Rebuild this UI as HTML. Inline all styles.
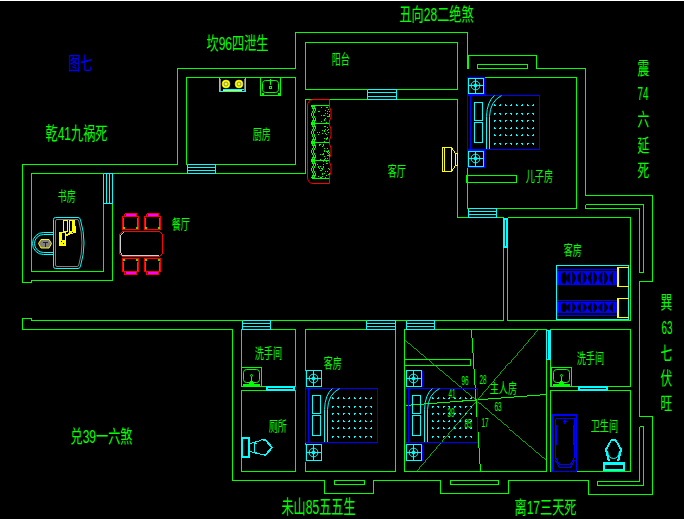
<!DOCTYPE html>
<html><head><meta charset="utf-8"><title>floor plan</title>
<style>
html,body{margin:0;padding:0;background:#000;overflow:hidden}
svg{display:block;position:absolute;left:0;top:0}
text{font-family:"Liberation Sans","Noto Sans CJK SC",sans-serif}
</style></head><body>
<svg width="684" height="519" viewBox="0 0 684 519" fill="none" shape-rendering="crispEdges" stroke-linecap="butt" stroke-linejoin="miter">
<rect x="0" y="0" width="684" height="519" fill="#000"/>
<rect x="0" y="0" width="684" height="1" fill="#fff"/>
<path d="M22.5 282.5 L22.5 164.5 L177.5 164.5 L177.5 68.5 L295.5 68.5 L295.5 32.5 L467.5 32.5 L467.5 68.5" stroke="#00ff00" stroke-width="1" />
<path d="M468.5 55.5 L468.5 68.5" stroke="#00ff00" stroke-width="1" />
<path d="M467.5 55.5 L536.5 55.5 L536.5 68.5 L585.5 68.5 L585.5 195.5 L652.5 195.5 L652.5 281.5 L639.5 281.5 L639.5 416.5 L652.5 416.5 L652.5 494.5 L588.5 494.5 L588.5 480.5 L508.5 480.5 L508.5 493.5 L440.5 493.5 L440.5 480.5 L373.5 480.5 L373.5 493.5 L324.5 493.5 L324.5 480.5 L232.5 480.5 L232.5 329.5 L22.5 329.5 L22.5 318.5 L31.5 318.5 L31.5 320.5 L503.5 320.5" stroke="#00ff00" stroke-width="1" />
<path d="M507.5 320.5 L630.5 320.5 L630.5 217.5 L507.5 217.5" stroke="#00ff00" stroke-width="1" />
<path d="M22.5 282.5 L31.5 282.5 L31.5 280.5 L112.5 280.5 L112.5 173.5 L305.5 173.5 L305.5 99.5 L457.5 99.5 L457.5 217.5 L503.5 217.5" stroke="#00ff00" stroke-width="1" />
<path d="M103.5 173.5 L31.5 173.5 L31.5 271.5 L103.5 271.5 L103.5 173.5" stroke="#00ff00" stroke-width="1" />
<rect x="186.5" y="77.5" width="109" height="87" stroke="#00ff00" stroke-width="1" fill="none"/>
<rect x="305.5" y="42.5" width="152" height="47" stroke="#00ff00" stroke-width="1" fill="none"/>
<rect x="467.5" y="77.5" width="109" height="131" stroke="#00ff00" stroke-width="1" fill="none"/>
<path d="M503.5 217.5 L503.5 320.5" stroke="#00ff00" stroke-width="1" />
<path d="M507.5 217.5 L507.5 320.5" stroke="#00ff00" stroke-width="1" />
<rect x="241.5" y="329.5" width="54" height="57" stroke="#00ff00" stroke-width="1" fill="none"/>
<rect x="241.5" y="390.5" width="54" height="81" stroke="#00ff00" stroke-width="1" fill="none"/>
<rect x="305.5" y="329.5" width="90" height="142" stroke="#00ff00" stroke-width="1" fill="none"/>
<rect x="404.5" y="329.5" width="142" height="142" stroke="#00ff00" stroke-width="1" fill="none"/>
<rect x="550.5" y="329.5" width="80" height="57" stroke="#00ff00" stroke-width="1" fill="none"/>
<rect x="550.5" y="390.5" width="80" height="81" stroke="#00ff00" stroke-width="1" fill="none"/>
<rect x="477.5" y="64.5" width="50" height="4" stroke="#00ff00" stroke-width="1" fill="none"/>
<rect x="334.5" y="480.5" width="30" height="4" stroke="#00ff00" stroke-width="1" fill="none"/>
<rect x="450.5" y="480.5" width="48" height="4" stroke="#00ff00" stroke-width="1" fill="none"/>
<path d="M585.5 204.5 L643.5 204.5 L643.5 272.5 L639.5 272.5 L639.5 208.5 L585.5 208.5 L585.5 204.5" stroke="#00ff00" stroke-width="1" />
<path d="M639.5 426.5 L643.5 426.5 L643.5 485.5 L597.5 485.5 L597.5 481.5 L639.5 481.5 L639.5 426.5" stroke="#00ff00" stroke-width="1" />
<rect x="466.5" y="175.5" width="50" height="7" stroke="#00ff00" stroke-width="1" fill="none"/>
<rect x="404.5" y="359.5" width="66" height="6" stroke="#00ff00" stroke-width="1" fill="none"/>
<path d="M103.5 173.5 L103.5 203.5" stroke="#00ffff" stroke-width="1" />
<path d="M106.5 173.5 L106.5 203.5" stroke="#00ffff" stroke-width="1" />
<path d="M109.5 173.5 L109.5 203.5" stroke="#00ffff" stroke-width="1" />
<path d="M112.5 173.5 L112.5 203.5" stroke="#00ffff" stroke-width="1" />
<path d="M103.5 173.5 L112.5 173.5" stroke="#00ffff" stroke-width="1" />
<path d="M103.5 203.5 L112.5 203.5" stroke="#00ffff" stroke-width="1" />
<path d="M187.5 164.5 L215.5 164.5" stroke="#00ffff" stroke-width="1" />
<path d="M187.5 167.5 L215.5 167.5" stroke="#00ffff" stroke-width="1" />
<path d="M187.5 170.5 L215.5 170.5" stroke="#00ffff" stroke-width="1" />
<path d="M187.5 173.5 L215.5 173.5" stroke="#00ffff" stroke-width="1" />
<path d="M187.5 164.5 L187.5 173.5" stroke="#00ffff" stroke-width="1" />
<path d="M215.5 164.5 L215.5 173.5" stroke="#00ffff" stroke-width="1" />
<path d="M367.5 89.5 L396.5 89.5" stroke="#00ffff" stroke-width="1" />
<path d="M367.5 92.5 L396.5 92.5" stroke="#00ffff" stroke-width="1" />
<path d="M367.5 96.5 L396.5 96.5" stroke="#00ffff" stroke-width="1" />
<path d="M367.5 99.5 L396.5 99.5" stroke="#00ffff" stroke-width="1" />
<path d="M367.5 89.5 L367.5 99.5" stroke="#00ffff" stroke-width="1" />
<path d="M396.5 89.5 L396.5 99.5" stroke="#00ffff" stroke-width="1" />
<path d="M468.5 208.5 L496.5 208.5" stroke="#00ffff" stroke-width="1" />
<path d="M468.5 211.5 L496.5 211.5" stroke="#00ffff" stroke-width="1" />
<path d="M468.5 214.5 L496.5 214.5" stroke="#00ffff" stroke-width="1" />
<path d="M468.5 217.5 L496.5 217.5" stroke="#00ffff" stroke-width="1" />
<path d="M468.5 208.5 L468.5 217.5" stroke="#00ffff" stroke-width="1" />
<path d="M496.5 208.5 L496.5 217.5" stroke="#00ffff" stroke-width="1" />
<path d="M242.5 320.5 L270.5 320.5" stroke="#00ffff" stroke-width="1" />
<path d="M242.5 323.5 L270.5 323.5" stroke="#00ffff" stroke-width="1" />
<path d="M242.5 326.5 L270.5 326.5" stroke="#00ffff" stroke-width="1" />
<path d="M242.5 329.5 L270.5 329.5" stroke="#00ffff" stroke-width="1" />
<path d="M242.5 320.5 L242.5 329.5" stroke="#00ffff" stroke-width="1" />
<path d="M270.5 320.5 L270.5 329.5" stroke="#00ffff" stroke-width="1" />
<path d="M366.5 320.5 L395.5 320.5" stroke="#00ffff" stroke-width="1" />
<path d="M366.5 323.5 L395.5 323.5" stroke="#00ffff" stroke-width="1" />
<path d="M366.5 326.5 L395.5 326.5" stroke="#00ffff" stroke-width="1" />
<path d="M366.5 329.5 L395.5 329.5" stroke="#00ffff" stroke-width="1" />
<path d="M366.5 320.5 L366.5 329.5" stroke="#00ffff" stroke-width="1" />
<path d="M395.5 320.5 L395.5 329.5" stroke="#00ffff" stroke-width="1" />
<path d="M406.5 320.5 L434.5 320.5" stroke="#00ffff" stroke-width="1" />
<path d="M406.5 323.5 L434.5 323.5" stroke="#00ffff" stroke-width="1" />
<path d="M406.5 326.5 L434.5 326.5" stroke="#00ffff" stroke-width="1" />
<path d="M406.5 329.5 L434.5 329.5" stroke="#00ffff" stroke-width="1" />
<path d="M406.5 320.5 L406.5 329.5" stroke="#00ffff" stroke-width="1" />
<path d="M434.5 320.5 L434.5 329.5" stroke="#00ffff" stroke-width="1" />
<rect x="503" y="218" width="5" height="30" fill="#00ffff" stroke="none"/>
<rect x="505" y="220" width="1" height="26" fill="#000" stroke="none"/>
<rect x="504" y="217" width="3" height="1" fill="#000" stroke="none"/>
<rect x="546" y="330" width="5" height="30" fill="#00ffff" stroke="none"/>
<rect x="547" y="331" width="1" height="28" fill="#000" stroke="none"/>
<rect x="547" y="329" width="3" height="1" fill="#000" stroke="none"/>
<rect x="266" y="386" width="29" height="5" fill="#00ffff" stroke="none"/>
<rect x="268" y="388" width="25" height="1" fill="#000" stroke="none"/>
<rect x="578" y="386" width="30" height="5" fill="#00ffff" stroke="none"/>
<rect x="580" y="388" width="26" height="1" fill="#000" stroke="none"/>
<path d="M404.5 340.5 L546.5 460.5" stroke="#00ff00" stroke-width="0.68" />
<path d="M471.5 329.5 L480.5 471.5" stroke="#00ff00" stroke-width="1" />
<path d="M537.5 329.5 L416.5 471.5" stroke="#00ff00" stroke-width="0.68" />
<path d="M404.5 405.5 L546.5 394.5" stroke="#00ff00" stroke-width="1" />
<rect x="467.5" y="77.5" width="17" height="17" stroke="#0000ff" stroke-width="1" fill="none"/>
<rect x="468.5" y="78.5" width="15" height="15" stroke="#00ffff" stroke-width="1" fill="none"/>
<circle cx="475.5" cy="85.5" r="4.4" stroke="#00ffff" stroke-width="1" fill="none" shape-rendering="geometricPrecision"/>
<circle cx="475.5" cy="85.5" r="1.6" stroke="#00ffff" stroke-width="1" fill="#00ffff" shape-rendering="geometricPrecision"/>
<path d="M468.5 85.5 L483.5 85.5" stroke="#00ffff" stroke-width="1" />
<path d="M475.5 78.5 L475.5 93.5" stroke="#00ffff" stroke-width="1" />
<rect x="467.5" y="95.5" width="72" height="54" stroke="#0000ff" stroke-width="1" fill="none"/>
<path d="M470.5 95.5 L470.5 149.5" stroke="#0000ff" stroke-width="1" />
<rect x="474.5" y="102.5" width="8" height="18" stroke="#00ffff" stroke-width="1" fill="none"/>
<rect x="474.5" y="122.5" width="8" height="20" stroke="#00ffff" stroke-width="1" fill="none"/>
<path d="M486.5 149 L486.5 116.6 Q487 101.48 494.5 95.5" stroke="#00ffff" stroke-width="1" fill="none" shape-rendering="geometricPrecision"/>
<path d="M489.5 149 L489.5 116.6 Q490 101.48 501.5 95.5" stroke="#00ffff" stroke-width="1" fill="none" shape-rendering="geometricPrecision"/>
<rect x="494" y="105" width="2" height="1" fill="#00ffff" stroke="none"/>
<rect x="494" y="104" width="1" height="1" fill="#00ffff" stroke="none"/>
<rect x="499" y="105" width="2" height="1" fill="#00ffff" stroke="none"/>
<rect x="500" y="104" width="1" height="1" fill="#00ffff" stroke="none"/>
<rect x="505" y="105" width="2" height="1" fill="#00ffff" stroke="none"/>
<rect x="505" y="104" width="1" height="1" fill="#00ffff" stroke="none"/>
<rect x="510" y="105" width="2" height="1" fill="#00ffff" stroke="none"/>
<rect x="511" y="104" width="1" height="1" fill="#00ffff" stroke="none"/>
<rect x="516" y="105" width="2" height="1" fill="#00ffff" stroke="none"/>
<rect x="516" y="104" width="1" height="1" fill="#00ffff" stroke="none"/>
<rect x="521" y="105" width="2" height="1" fill="#00ffff" stroke="none"/>
<rect x="522" y="104" width="1" height="1" fill="#00ffff" stroke="none"/>
<rect x="527" y="105" width="2" height="1" fill="#00ffff" stroke="none"/>
<rect x="527" y="104" width="1" height="1" fill="#00ffff" stroke="none"/>
<rect x="532" y="105" width="2" height="1" fill="#00ffff" stroke="none"/>
<rect x="533" y="104" width="1" height="1" fill="#00ffff" stroke="none"/>
<rect x="494" y="113" width="2" height="1" fill="#00ffff" stroke="none"/>
<rect x="494" y="114" width="1" height="1" fill="#00ffff" stroke="none"/>
<rect x="499" y="113" width="2" height="1" fill="#00ffff" stroke="none"/>
<rect x="500" y="114" width="1" height="1" fill="#00ffff" stroke="none"/>
<rect x="505" y="113" width="2" height="1" fill="#00ffff" stroke="none"/>
<rect x="505" y="114" width="1" height="1" fill="#00ffff" stroke="none"/>
<rect x="510" y="113" width="2" height="1" fill="#00ffff" stroke="none"/>
<rect x="511" y="114" width="1" height="1" fill="#00ffff" stroke="none"/>
<rect x="516" y="113" width="2" height="1" fill="#00ffff" stroke="none"/>
<rect x="516" y="114" width="1" height="1" fill="#00ffff" stroke="none"/>
<rect x="521" y="113" width="2" height="1" fill="#00ffff" stroke="none"/>
<rect x="522" y="114" width="1" height="1" fill="#00ffff" stroke="none"/>
<rect x="527" y="113" width="2" height="1" fill="#00ffff" stroke="none"/>
<rect x="527" y="114" width="1" height="1" fill="#00ffff" stroke="none"/>
<rect x="532" y="113" width="2" height="1" fill="#00ffff" stroke="none"/>
<rect x="533" y="114" width="1" height="1" fill="#00ffff" stroke="none"/>
<rect x="494" y="120" width="2" height="1" fill="#00ffff" stroke="none"/>
<rect x="494" y="121" width="1" height="1" fill="#00ffff" stroke="none"/>
<rect x="499" y="120" width="2" height="1" fill="#00ffff" stroke="none"/>
<rect x="500" y="121" width="1" height="1" fill="#00ffff" stroke="none"/>
<rect x="505" y="120" width="2" height="1" fill="#00ffff" stroke="none"/>
<rect x="505" y="121" width="1" height="1" fill="#00ffff" stroke="none"/>
<rect x="510" y="120" width="2" height="1" fill="#00ffff" stroke="none"/>
<rect x="511" y="121" width="1" height="1" fill="#00ffff" stroke="none"/>
<rect x="516" y="120" width="2" height="1" fill="#00ffff" stroke="none"/>
<rect x="516" y="121" width="1" height="1" fill="#00ffff" stroke="none"/>
<rect x="521" y="120" width="2" height="1" fill="#00ffff" stroke="none"/>
<rect x="522" y="121" width="1" height="1" fill="#00ffff" stroke="none"/>
<rect x="527" y="120" width="2" height="1" fill="#00ffff" stroke="none"/>
<rect x="527" y="121" width="1" height="1" fill="#00ffff" stroke="none"/>
<rect x="532" y="120" width="2" height="1" fill="#00ffff" stroke="none"/>
<rect x="533" y="121" width="1" height="1" fill="#00ffff" stroke="none"/>
<rect x="494" y="128" width="2" height="1" fill="#00ffff" stroke="none"/>
<rect x="494" y="127" width="1" height="1" fill="#00ffff" stroke="none"/>
<rect x="499" y="128" width="2" height="1" fill="#00ffff" stroke="none"/>
<rect x="500" y="127" width="1" height="1" fill="#00ffff" stroke="none"/>
<rect x="505" y="128" width="2" height="1" fill="#00ffff" stroke="none"/>
<rect x="505" y="127" width="1" height="1" fill="#00ffff" stroke="none"/>
<rect x="510" y="128" width="2" height="1" fill="#00ffff" stroke="none"/>
<rect x="511" y="127" width="1" height="1" fill="#00ffff" stroke="none"/>
<rect x="516" y="128" width="2" height="1" fill="#00ffff" stroke="none"/>
<rect x="516" y="127" width="1" height="1" fill="#00ffff" stroke="none"/>
<rect x="521" y="128" width="2" height="1" fill="#00ffff" stroke="none"/>
<rect x="522" y="127" width="1" height="1" fill="#00ffff" stroke="none"/>
<rect x="527" y="128" width="2" height="1" fill="#00ffff" stroke="none"/>
<rect x="527" y="127" width="1" height="1" fill="#00ffff" stroke="none"/>
<rect x="532" y="128" width="2" height="1" fill="#00ffff" stroke="none"/>
<rect x="533" y="127" width="1" height="1" fill="#00ffff" stroke="none"/>
<rect x="494" y="135" width="2" height="1" fill="#00ffff" stroke="none"/>
<rect x="494" y="134" width="1" height="1" fill="#00ffff" stroke="none"/>
<rect x="499" y="135" width="2" height="1" fill="#00ffff" stroke="none"/>
<rect x="500" y="134" width="1" height="1" fill="#00ffff" stroke="none"/>
<rect x="505" y="135" width="2" height="1" fill="#00ffff" stroke="none"/>
<rect x="505" y="134" width="1" height="1" fill="#00ffff" stroke="none"/>
<rect x="510" y="135" width="2" height="1" fill="#00ffff" stroke="none"/>
<rect x="511" y="134" width="1" height="1" fill="#00ffff" stroke="none"/>
<rect x="516" y="135" width="2" height="1" fill="#00ffff" stroke="none"/>
<rect x="516" y="134" width="1" height="1" fill="#00ffff" stroke="none"/>
<rect x="521" y="135" width="2" height="1" fill="#00ffff" stroke="none"/>
<rect x="522" y="134" width="1" height="1" fill="#00ffff" stroke="none"/>
<rect x="527" y="135" width="2" height="1" fill="#00ffff" stroke="none"/>
<rect x="527" y="134" width="1" height="1" fill="#00ffff" stroke="none"/>
<rect x="532" y="135" width="2" height="1" fill="#00ffff" stroke="none"/>
<rect x="533" y="134" width="1" height="1" fill="#00ffff" stroke="none"/>
<rect x="494" y="143" width="2" height="1" fill="#00ffff" stroke="none"/>
<rect x="494" y="144" width="1" height="1" fill="#00ffff" stroke="none"/>
<rect x="499" y="143" width="2" height="1" fill="#00ffff" stroke="none"/>
<rect x="500" y="144" width="1" height="1" fill="#00ffff" stroke="none"/>
<rect x="505" y="143" width="2" height="1" fill="#00ffff" stroke="none"/>
<rect x="505" y="144" width="1" height="1" fill="#00ffff" stroke="none"/>
<rect x="510" y="143" width="2" height="1" fill="#00ffff" stroke="none"/>
<rect x="511" y="144" width="1" height="1" fill="#00ffff" stroke="none"/>
<rect x="516" y="143" width="2" height="1" fill="#00ffff" stroke="none"/>
<rect x="516" y="144" width="1" height="1" fill="#00ffff" stroke="none"/>
<rect x="521" y="143" width="2" height="1" fill="#00ffff" stroke="none"/>
<rect x="522" y="144" width="1" height="1" fill="#00ffff" stroke="none"/>
<rect x="527" y="143" width="2" height="1" fill="#00ffff" stroke="none"/>
<rect x="527" y="144" width="1" height="1" fill="#00ffff" stroke="none"/>
<rect x="532" y="143" width="2" height="1" fill="#00ffff" stroke="none"/>
<rect x="533" y="144" width="1" height="1" fill="#00ffff" stroke="none"/>
<rect x="467.5" y="150.5" width="17" height="17" stroke="#0000ff" stroke-width="1" fill="none"/>
<rect x="468.5" y="151.5" width="15" height="15" stroke="#00ffff" stroke-width="1" fill="none"/>
<circle cx="475.5" cy="158.5" r="4.4" stroke="#00ffff" stroke-width="1" fill="none" shape-rendering="geometricPrecision"/>
<circle cx="475.5" cy="158.5" r="1.6" stroke="#00ffff" stroke-width="1" fill="#00ffff" shape-rendering="geometricPrecision"/>
<path d="M468.5 158.5 L483.5 158.5" stroke="#00ffff" stroke-width="1" />
<path d="M475.5 151.5 L475.5 166.5" stroke="#00ffff" stroke-width="1" />
<path d="M305.5 370.5 L305.5 387.5" stroke="#0000ff" stroke-width="1" />
<rect x="306.5" y="370.5" width="15" height="16" stroke="#00ffff" stroke-width="1" fill="none"/>
<circle cx="313.5" cy="378.5" r="4.4" stroke="#00ffff" stroke-width="1" fill="none" shape-rendering="geometricPrecision"/>
<circle cx="313.5" cy="378.5" r="1.6" stroke="#00ffff" stroke-width="1" fill="#00ffff" shape-rendering="geometricPrecision"/>
<path d="M306.5 378.5 L321.5 378.5" stroke="#00ffff" stroke-width="1" />
<path d="M313.5 370.5 L313.5 386.5" stroke="#00ffff" stroke-width="1" />
<rect x="305.5" y="388.5" width="72" height="54" stroke="#0000ff" stroke-width="1" fill="none"/>
<path d="M308.5 388.5 L308.5 442.5" stroke="#0000ff" stroke-width="1" />
<rect x="312.5" y="395.5" width="8" height="18" stroke="#00ffff" stroke-width="1" fill="none"/>
<rect x="312.5" y="415.5" width="8" height="20" stroke="#00ffff" stroke-width="1" fill="none"/>
<path d="M324.5 442 L324.5 409.6 Q325 394.48 332.5 388.5" stroke="#00ffff" stroke-width="1" fill="none" shape-rendering="geometricPrecision"/>
<path d="M327.5 442 L327.5 409.6 Q328 394.48 339.5 388.5" stroke="#00ffff" stroke-width="1" fill="none" shape-rendering="geometricPrecision"/>
<rect x="332" y="398" width="2" height="1" fill="#00ffff" stroke="none"/>
<rect x="332" y="397" width="1" height="1" fill="#00ffff" stroke="none"/>
<rect x="337" y="398" width="2" height="1" fill="#00ffff" stroke="none"/>
<rect x="338" y="397" width="1" height="1" fill="#00ffff" stroke="none"/>
<rect x="343" y="398" width="2" height="1" fill="#00ffff" stroke="none"/>
<rect x="343" y="397" width="1" height="1" fill="#00ffff" stroke="none"/>
<rect x="348" y="398" width="2" height="1" fill="#00ffff" stroke="none"/>
<rect x="349" y="397" width="1" height="1" fill="#00ffff" stroke="none"/>
<rect x="354" y="398" width="2" height="1" fill="#00ffff" stroke="none"/>
<rect x="354" y="397" width="1" height="1" fill="#00ffff" stroke="none"/>
<rect x="359" y="398" width="2" height="1" fill="#00ffff" stroke="none"/>
<rect x="360" y="397" width="1" height="1" fill="#00ffff" stroke="none"/>
<rect x="365" y="398" width="2" height="1" fill="#00ffff" stroke="none"/>
<rect x="365" y="397" width="1" height="1" fill="#00ffff" stroke="none"/>
<rect x="370" y="398" width="2" height="1" fill="#00ffff" stroke="none"/>
<rect x="371" y="397" width="1" height="1" fill="#00ffff" stroke="none"/>
<rect x="332" y="406" width="2" height="1" fill="#00ffff" stroke="none"/>
<rect x="332" y="407" width="1" height="1" fill="#00ffff" stroke="none"/>
<rect x="337" y="406" width="2" height="1" fill="#00ffff" stroke="none"/>
<rect x="338" y="407" width="1" height="1" fill="#00ffff" stroke="none"/>
<rect x="343" y="406" width="2" height="1" fill="#00ffff" stroke="none"/>
<rect x="343" y="407" width="1" height="1" fill="#00ffff" stroke="none"/>
<rect x="348" y="406" width="2" height="1" fill="#00ffff" stroke="none"/>
<rect x="349" y="407" width="1" height="1" fill="#00ffff" stroke="none"/>
<rect x="354" y="406" width="2" height="1" fill="#00ffff" stroke="none"/>
<rect x="354" y="407" width="1" height="1" fill="#00ffff" stroke="none"/>
<rect x="359" y="406" width="2" height="1" fill="#00ffff" stroke="none"/>
<rect x="360" y="407" width="1" height="1" fill="#00ffff" stroke="none"/>
<rect x="365" y="406" width="2" height="1" fill="#00ffff" stroke="none"/>
<rect x="365" y="407" width="1" height="1" fill="#00ffff" stroke="none"/>
<rect x="370" y="406" width="2" height="1" fill="#00ffff" stroke="none"/>
<rect x="371" y="407" width="1" height="1" fill="#00ffff" stroke="none"/>
<rect x="332" y="413" width="2" height="1" fill="#00ffff" stroke="none"/>
<rect x="332" y="414" width="1" height="1" fill="#00ffff" stroke="none"/>
<rect x="337" y="413" width="2" height="1" fill="#00ffff" stroke="none"/>
<rect x="338" y="414" width="1" height="1" fill="#00ffff" stroke="none"/>
<rect x="343" y="413" width="2" height="1" fill="#00ffff" stroke="none"/>
<rect x="343" y="414" width="1" height="1" fill="#00ffff" stroke="none"/>
<rect x="348" y="413" width="2" height="1" fill="#00ffff" stroke="none"/>
<rect x="349" y="414" width="1" height="1" fill="#00ffff" stroke="none"/>
<rect x="354" y="413" width="2" height="1" fill="#00ffff" stroke="none"/>
<rect x="354" y="414" width="1" height="1" fill="#00ffff" stroke="none"/>
<rect x="359" y="413" width="2" height="1" fill="#00ffff" stroke="none"/>
<rect x="360" y="414" width="1" height="1" fill="#00ffff" stroke="none"/>
<rect x="365" y="413" width="2" height="1" fill="#00ffff" stroke="none"/>
<rect x="365" y="414" width="1" height="1" fill="#00ffff" stroke="none"/>
<rect x="370" y="413" width="2" height="1" fill="#00ffff" stroke="none"/>
<rect x="371" y="414" width="1" height="1" fill="#00ffff" stroke="none"/>
<rect x="332" y="421" width="2" height="1" fill="#00ffff" stroke="none"/>
<rect x="332" y="420" width="1" height="1" fill="#00ffff" stroke="none"/>
<rect x="337" y="421" width="2" height="1" fill="#00ffff" stroke="none"/>
<rect x="338" y="420" width="1" height="1" fill="#00ffff" stroke="none"/>
<rect x="343" y="421" width="2" height="1" fill="#00ffff" stroke="none"/>
<rect x="343" y="420" width="1" height="1" fill="#00ffff" stroke="none"/>
<rect x="348" y="421" width="2" height="1" fill="#00ffff" stroke="none"/>
<rect x="349" y="420" width="1" height="1" fill="#00ffff" stroke="none"/>
<rect x="354" y="421" width="2" height="1" fill="#00ffff" stroke="none"/>
<rect x="354" y="420" width="1" height="1" fill="#00ffff" stroke="none"/>
<rect x="359" y="421" width="2" height="1" fill="#00ffff" stroke="none"/>
<rect x="360" y="420" width="1" height="1" fill="#00ffff" stroke="none"/>
<rect x="365" y="421" width="2" height="1" fill="#00ffff" stroke="none"/>
<rect x="365" y="420" width="1" height="1" fill="#00ffff" stroke="none"/>
<rect x="370" y="421" width="2" height="1" fill="#00ffff" stroke="none"/>
<rect x="371" y="420" width="1" height="1" fill="#00ffff" stroke="none"/>
<rect x="332" y="428" width="2" height="1" fill="#00ffff" stroke="none"/>
<rect x="332" y="427" width="1" height="1" fill="#00ffff" stroke="none"/>
<rect x="337" y="428" width="2" height="1" fill="#00ffff" stroke="none"/>
<rect x="338" y="427" width="1" height="1" fill="#00ffff" stroke="none"/>
<rect x="343" y="428" width="2" height="1" fill="#00ffff" stroke="none"/>
<rect x="343" y="427" width="1" height="1" fill="#00ffff" stroke="none"/>
<rect x="348" y="428" width="2" height="1" fill="#00ffff" stroke="none"/>
<rect x="349" y="427" width="1" height="1" fill="#00ffff" stroke="none"/>
<rect x="354" y="428" width="2" height="1" fill="#00ffff" stroke="none"/>
<rect x="354" y="427" width="1" height="1" fill="#00ffff" stroke="none"/>
<rect x="359" y="428" width="2" height="1" fill="#00ffff" stroke="none"/>
<rect x="360" y="427" width="1" height="1" fill="#00ffff" stroke="none"/>
<rect x="365" y="428" width="2" height="1" fill="#00ffff" stroke="none"/>
<rect x="365" y="427" width="1" height="1" fill="#00ffff" stroke="none"/>
<rect x="370" y="428" width="2" height="1" fill="#00ffff" stroke="none"/>
<rect x="371" y="427" width="1" height="1" fill="#00ffff" stroke="none"/>
<rect x="332" y="436" width="2" height="1" fill="#00ffff" stroke="none"/>
<rect x="332" y="437" width="1" height="1" fill="#00ffff" stroke="none"/>
<rect x="337" y="436" width="2" height="1" fill="#00ffff" stroke="none"/>
<rect x="338" y="437" width="1" height="1" fill="#00ffff" stroke="none"/>
<rect x="343" y="436" width="2" height="1" fill="#00ffff" stroke="none"/>
<rect x="343" y="437" width="1" height="1" fill="#00ffff" stroke="none"/>
<rect x="348" y="436" width="2" height="1" fill="#00ffff" stroke="none"/>
<rect x="349" y="437" width="1" height="1" fill="#00ffff" stroke="none"/>
<rect x="354" y="436" width="2" height="1" fill="#00ffff" stroke="none"/>
<rect x="354" y="437" width="1" height="1" fill="#00ffff" stroke="none"/>
<rect x="359" y="436" width="2" height="1" fill="#00ffff" stroke="none"/>
<rect x="360" y="437" width="1" height="1" fill="#00ffff" stroke="none"/>
<rect x="365" y="436" width="2" height="1" fill="#00ffff" stroke="none"/>
<rect x="365" y="437" width="1" height="1" fill="#00ffff" stroke="none"/>
<rect x="370" y="436" width="2" height="1" fill="#00ffff" stroke="none"/>
<rect x="371" y="437" width="1" height="1" fill="#00ffff" stroke="none"/>
<path d="M305.5 444.5 L305.5 461.5" stroke="#0000ff" stroke-width="1" />
<rect x="306.5" y="444.5" width="15" height="16" stroke="#00ffff" stroke-width="1" fill="none"/>
<circle cx="313.5" cy="452.5" r="4.4" stroke="#00ffff" stroke-width="1" fill="none" shape-rendering="geometricPrecision"/>
<circle cx="313.5" cy="452.5" r="1.6" stroke="#00ffff" stroke-width="1" fill="#00ffff" shape-rendering="geometricPrecision"/>
<path d="M306.5 452.5 L321.5 452.5" stroke="#00ffff" stroke-width="1" />
<path d="M313.5 444.5 L313.5 460.5" stroke="#00ffff" stroke-width="1" />
<path d="M405.5 370.5 L405.5 387.5" stroke="#0000ff" stroke-width="1" />
<path d="M422.5 370.5 L422.5 386.5" stroke="#0000ff" stroke-width="1" />
<rect x="406.5" y="370.5" width="15" height="16" stroke="#00ffff" stroke-width="1" fill="none"/>
<circle cx="413.5" cy="378.5" r="4.4" stroke="#00ffff" stroke-width="1" fill="none" shape-rendering="geometricPrecision"/>
<circle cx="413.5" cy="378.5" r="1.6" stroke="#00ffff" stroke-width="1" fill="#00ffff" shape-rendering="geometricPrecision"/>
<path d="M406.5 378.5 L421.5 378.5" stroke="#00ffff" stroke-width="1" />
<path d="M413.5 370.5 L413.5 386.5" stroke="#00ffff" stroke-width="1" />
<rect x="405.5" y="388.5" width="72" height="54" stroke="#0000ff" stroke-width="1" fill="none"/>
<path d="M408.5 388.5 L408.5 442.5" stroke="#0000ff" stroke-width="1" />
<rect x="412.5" y="395.5" width="8" height="18" stroke="#00ffff" stroke-width="1" fill="none"/>
<rect x="412.5" y="415.5" width="8" height="20" stroke="#00ffff" stroke-width="1" fill="none"/>
<path d="M424.5 442 L424.5 409.6 Q425 394.48 432.5 388.5" stroke="#00ffff" stroke-width="1" fill="none" shape-rendering="geometricPrecision"/>
<path d="M427.5 442 L427.5 409.6 Q428 394.48 439.5 388.5" stroke="#00ffff" stroke-width="1" fill="none" shape-rendering="geometricPrecision"/>
<rect x="432" y="398" width="2" height="1" fill="#00ffff" stroke="none"/>
<rect x="432" y="397" width="1" height="1" fill="#00ffff" stroke="none"/>
<rect x="437" y="398" width="2" height="1" fill="#00ffff" stroke="none"/>
<rect x="438" y="397" width="1" height="1" fill="#00ffff" stroke="none"/>
<rect x="443" y="398" width="2" height="1" fill="#00ffff" stroke="none"/>
<rect x="443" y="397" width="1" height="1" fill="#00ffff" stroke="none"/>
<rect x="448" y="398" width="2" height="1" fill="#00ffff" stroke="none"/>
<rect x="449" y="397" width="1" height="1" fill="#00ffff" stroke="none"/>
<rect x="454" y="398" width="2" height="1" fill="#00ffff" stroke="none"/>
<rect x="454" y="397" width="1" height="1" fill="#00ffff" stroke="none"/>
<rect x="459" y="398" width="2" height="1" fill="#00ffff" stroke="none"/>
<rect x="460" y="397" width="1" height="1" fill="#00ffff" stroke="none"/>
<rect x="465" y="398" width="2" height="1" fill="#00ffff" stroke="none"/>
<rect x="465" y="397" width="1" height="1" fill="#00ffff" stroke="none"/>
<rect x="470" y="398" width="2" height="1" fill="#00ffff" stroke="none"/>
<rect x="471" y="397" width="1" height="1" fill="#00ffff" stroke="none"/>
<rect x="432" y="406" width="2" height="1" fill="#00ffff" stroke="none"/>
<rect x="432" y="407" width="1" height="1" fill="#00ffff" stroke="none"/>
<rect x="437" y="406" width="2" height="1" fill="#00ffff" stroke="none"/>
<rect x="438" y="407" width="1" height="1" fill="#00ffff" stroke="none"/>
<rect x="443" y="406" width="2" height="1" fill="#00ffff" stroke="none"/>
<rect x="443" y="407" width="1" height="1" fill="#00ffff" stroke="none"/>
<rect x="448" y="406" width="2" height="1" fill="#00ffff" stroke="none"/>
<rect x="449" y="407" width="1" height="1" fill="#00ffff" stroke="none"/>
<rect x="454" y="406" width="2" height="1" fill="#00ffff" stroke="none"/>
<rect x="454" y="407" width="1" height="1" fill="#00ffff" stroke="none"/>
<rect x="459" y="406" width="2" height="1" fill="#00ffff" stroke="none"/>
<rect x="460" y="407" width="1" height="1" fill="#00ffff" stroke="none"/>
<rect x="465" y="406" width="2" height="1" fill="#00ffff" stroke="none"/>
<rect x="465" y="407" width="1" height="1" fill="#00ffff" stroke="none"/>
<rect x="470" y="406" width="2" height="1" fill="#00ffff" stroke="none"/>
<rect x="471" y="407" width="1" height="1" fill="#00ffff" stroke="none"/>
<rect x="432" y="413" width="2" height="1" fill="#00ffff" stroke="none"/>
<rect x="432" y="414" width="1" height="1" fill="#00ffff" stroke="none"/>
<rect x="437" y="413" width="2" height="1" fill="#00ffff" stroke="none"/>
<rect x="438" y="414" width="1" height="1" fill="#00ffff" stroke="none"/>
<rect x="443" y="413" width="2" height="1" fill="#00ffff" stroke="none"/>
<rect x="443" y="414" width="1" height="1" fill="#00ffff" stroke="none"/>
<rect x="448" y="413" width="2" height="1" fill="#00ffff" stroke="none"/>
<rect x="449" y="414" width="1" height="1" fill="#00ffff" stroke="none"/>
<rect x="454" y="413" width="2" height="1" fill="#00ffff" stroke="none"/>
<rect x="454" y="414" width="1" height="1" fill="#00ffff" stroke="none"/>
<rect x="459" y="413" width="2" height="1" fill="#00ffff" stroke="none"/>
<rect x="460" y="414" width="1" height="1" fill="#00ffff" stroke="none"/>
<rect x="465" y="413" width="2" height="1" fill="#00ffff" stroke="none"/>
<rect x="465" y="414" width="1" height="1" fill="#00ffff" stroke="none"/>
<rect x="470" y="413" width="2" height="1" fill="#00ffff" stroke="none"/>
<rect x="471" y="414" width="1" height="1" fill="#00ffff" stroke="none"/>
<rect x="432" y="421" width="2" height="1" fill="#00ffff" stroke="none"/>
<rect x="432" y="420" width="1" height="1" fill="#00ffff" stroke="none"/>
<rect x="437" y="421" width="2" height="1" fill="#00ffff" stroke="none"/>
<rect x="438" y="420" width="1" height="1" fill="#00ffff" stroke="none"/>
<rect x="443" y="421" width="2" height="1" fill="#00ffff" stroke="none"/>
<rect x="443" y="420" width="1" height="1" fill="#00ffff" stroke="none"/>
<rect x="448" y="421" width="2" height="1" fill="#00ffff" stroke="none"/>
<rect x="449" y="420" width="1" height="1" fill="#00ffff" stroke="none"/>
<rect x="454" y="421" width="2" height="1" fill="#00ffff" stroke="none"/>
<rect x="454" y="420" width="1" height="1" fill="#00ffff" stroke="none"/>
<rect x="459" y="421" width="2" height="1" fill="#00ffff" stroke="none"/>
<rect x="460" y="420" width="1" height="1" fill="#00ffff" stroke="none"/>
<rect x="465" y="421" width="2" height="1" fill="#00ffff" stroke="none"/>
<rect x="465" y="420" width="1" height="1" fill="#00ffff" stroke="none"/>
<rect x="470" y="421" width="2" height="1" fill="#00ffff" stroke="none"/>
<rect x="471" y="420" width="1" height="1" fill="#00ffff" stroke="none"/>
<rect x="432" y="428" width="2" height="1" fill="#00ffff" stroke="none"/>
<rect x="432" y="427" width="1" height="1" fill="#00ffff" stroke="none"/>
<rect x="437" y="428" width="2" height="1" fill="#00ffff" stroke="none"/>
<rect x="438" y="427" width="1" height="1" fill="#00ffff" stroke="none"/>
<rect x="443" y="428" width="2" height="1" fill="#00ffff" stroke="none"/>
<rect x="443" y="427" width="1" height="1" fill="#00ffff" stroke="none"/>
<rect x="448" y="428" width="2" height="1" fill="#00ffff" stroke="none"/>
<rect x="449" y="427" width="1" height="1" fill="#00ffff" stroke="none"/>
<rect x="454" y="428" width="2" height="1" fill="#00ffff" stroke="none"/>
<rect x="454" y="427" width="1" height="1" fill="#00ffff" stroke="none"/>
<rect x="459" y="428" width="2" height="1" fill="#00ffff" stroke="none"/>
<rect x="460" y="427" width="1" height="1" fill="#00ffff" stroke="none"/>
<rect x="465" y="428" width="2" height="1" fill="#00ffff" stroke="none"/>
<rect x="465" y="427" width="1" height="1" fill="#00ffff" stroke="none"/>
<rect x="470" y="428" width="2" height="1" fill="#00ffff" stroke="none"/>
<rect x="471" y="427" width="1" height="1" fill="#00ffff" stroke="none"/>
<rect x="432" y="436" width="2" height="1" fill="#00ffff" stroke="none"/>
<rect x="432" y="437" width="1" height="1" fill="#00ffff" stroke="none"/>
<rect x="437" y="436" width="2" height="1" fill="#00ffff" stroke="none"/>
<rect x="438" y="437" width="1" height="1" fill="#00ffff" stroke="none"/>
<rect x="443" y="436" width="2" height="1" fill="#00ffff" stroke="none"/>
<rect x="443" y="437" width="1" height="1" fill="#00ffff" stroke="none"/>
<rect x="448" y="436" width="2" height="1" fill="#00ffff" stroke="none"/>
<rect x="449" y="437" width="1" height="1" fill="#00ffff" stroke="none"/>
<rect x="454" y="436" width="2" height="1" fill="#00ffff" stroke="none"/>
<rect x="454" y="437" width="1" height="1" fill="#00ffff" stroke="none"/>
<rect x="459" y="436" width="2" height="1" fill="#00ffff" stroke="none"/>
<rect x="460" y="437" width="1" height="1" fill="#00ffff" stroke="none"/>
<rect x="465" y="436" width="2" height="1" fill="#00ffff" stroke="none"/>
<rect x="465" y="437" width="1" height="1" fill="#00ffff" stroke="none"/>
<rect x="470" y="436" width="2" height="1" fill="#00ffff" stroke="none"/>
<rect x="471" y="437" width="1" height="1" fill="#00ffff" stroke="none"/>
<path d="M405.5 444.5 L405.5 461.5" stroke="#0000ff" stroke-width="1" />
<path d="M422.5 444.5 L422.5 460.5" stroke="#0000ff" stroke-width="1" />
<rect x="406.5" y="444.5" width="15" height="16" stroke="#00ffff" stroke-width="1" fill="none"/>
<circle cx="413.5" cy="452.5" r="4.4" stroke="#00ffff" stroke-width="1" fill="none" shape-rendering="geometricPrecision"/>
<circle cx="413.5" cy="452.5" r="1.6" stroke="#00ffff" stroke-width="1" fill="#00ffff" shape-rendering="geometricPrecision"/>
<path d="M406.5 452.5 L421.5 452.5" stroke="#00ffff" stroke-width="1" />
<path d="M413.5 444.5 L413.5 460.5" stroke="#00ffff" stroke-width="1" />
<rect x="556.5" y="265.5" width="72" height="54" stroke="#00ffff" stroke-width="1" fill="none"/>
<rect x="557" y="269" width="60" height="1" fill="#0000ff" stroke="none"/>
<rect x="557" y="271" width="60" height="14" fill="#0000ff" stroke="none"/>
<ellipse cx="564" cy="278" rx="2.7" ry="6" stroke="#000" stroke-width="0.2" fill="#000" shape-rendering="geometricPrecision"/>
<path d="M570 272 Q563.5 278 570 284 Q569.3 278 570 272 Z" stroke="#000" stroke-width="0.6" fill="#000" shape-rendering="geometricPrecision"/>
<path d="M572.35 272 Q578.85 278 572.35 284 Q573.05 278 572.35 272 Z" stroke="#000" stroke-width="0.6" fill="#000" shape-rendering="geometricPrecision"/>
<path d="M580.7 272 Q574.2 278 580.7 284 Q580 278 580.7 272 Z" stroke="#000" stroke-width="0.6" fill="#000" shape-rendering="geometricPrecision"/>
<path d="M583.05 272 Q589.55 278 583.05 284 Q583.75 278 583.05 272 Z" stroke="#000" stroke-width="0.6" fill="#000" shape-rendering="geometricPrecision"/>
<path d="M591.4 272 Q584.9 278 591.4 284 Q590.7 278 591.4 272 Z" stroke="#000" stroke-width="0.6" fill="#000" shape-rendering="geometricPrecision"/>
<path d="M593.75 272 Q600.25 278 593.75 284 Q594.45 278 593.75 272 Z" stroke="#000" stroke-width="0.6" fill="#000" shape-rendering="geometricPrecision"/>
<path d="M602.1 272 Q595.6 278 602.1 284 Q601.4 278 602.1 272 Z" stroke="#000" stroke-width="0.6" fill="#000" shape-rendering="geometricPrecision"/>
<path d="M604.45 272 Q610.95 278 604.45 284 Q605.15 278 604.45 272 Z" stroke="#000" stroke-width="0.6" fill="#000" shape-rendering="geometricPrecision"/>
<path d="M612.8 272 Q606.3 278 612.8 284 Q612.1 278 612.8 272 Z" stroke="#000" stroke-width="0.6" fill="#000" shape-rendering="geometricPrecision"/>
<path d="M628.5 267.5 L617.5 267.5 L617.5 286.5 L628.5 286.5" stroke="#ffff00" stroke-width="1" />
<path d="M618.5 267.5 L618.5 286.5" stroke="#ffff00" stroke-width="1" />
<rect x="557" y="300" width="60" height="1" fill="#0000ff" stroke="none"/>
<rect x="557" y="315" width="60" height="1" fill="#0000ff" stroke="none"/>
<rect x="557" y="302" width="60" height="11" fill="#0000ff" stroke="none"/>
<ellipse cx="564" cy="307.5" rx="2.7" ry="4.5" stroke="#000" stroke-width="0.2" fill="#000" shape-rendering="geometricPrecision"/>
<path d="M570 303 Q563.5 307.5 570 312 Q569.3 307.5 570 303 Z" stroke="#000" stroke-width="0.6" fill="#000" shape-rendering="geometricPrecision"/>
<path d="M572.35 303 Q578.85 307.5 572.35 312 Q573.05 307.5 572.35 303 Z" stroke="#000" stroke-width="0.6" fill="#000" shape-rendering="geometricPrecision"/>
<path d="M580.7 303 Q574.2 307.5 580.7 312 Q580 307.5 580.7 303 Z" stroke="#000" stroke-width="0.6" fill="#000" shape-rendering="geometricPrecision"/>
<path d="M583.05 303 Q589.55 307.5 583.05 312 Q583.75 307.5 583.05 303 Z" stroke="#000" stroke-width="0.6" fill="#000" shape-rendering="geometricPrecision"/>
<path d="M591.4 303 Q584.9 307.5 591.4 312 Q590.7 307.5 591.4 303 Z" stroke="#000" stroke-width="0.6" fill="#000" shape-rendering="geometricPrecision"/>
<path d="M593.75 303 Q600.25 307.5 593.75 312 Q594.45 307.5 593.75 303 Z" stroke="#000" stroke-width="0.6" fill="#000" shape-rendering="geometricPrecision"/>
<path d="M602.1 303 Q595.6 307.5 602.1 312 Q601.4 307.5 602.1 303 Z" stroke="#000" stroke-width="0.6" fill="#000" shape-rendering="geometricPrecision"/>
<path d="M604.45 303 Q610.95 307.5 604.45 312 Q605.15 307.5 604.45 303 Z" stroke="#000" stroke-width="0.6" fill="#000" shape-rendering="geometricPrecision"/>
<path d="M612.8 303 Q606.3 307.5 612.8 312 Q612.1 307.5 612.8 303 Z" stroke="#000" stroke-width="0.6" fill="#000" shape-rendering="geometricPrecision"/>
<path d="M628.5 298.5 L617.5 298.5 L617.5 317.5 L628.5 317.5" stroke="#ffff00" stroke-width="1" />
<path d="M618.5 298.5 L618.5 317.5" stroke="#ffff00" stroke-width="1" />
<rect x="442.5" y="147.5" width="2" height="24" stroke="#ffff00" stroke-width="1" fill="none"/>
<path d="M444.5 147.5 L451.5 147.5 L455.5 153.5 L455.5 165.5 L451.5 171.5 L444.5 171.5" stroke="#ffff00" stroke-width="1" />
<path d="M455.5 153.5 L457.5 153.5 L457.5 165.5 L455.5 165.5" stroke="#ffff00" stroke-width="1" />
<path d="M451.5 147.5 L451.5 171.5" stroke="#ffff00" stroke-width="1" />
<path d="M219.5 77.5 L219.5 91.5 L245.5 91.5 L245.5 77.5" stroke="#00ffff" stroke-width="1" />
<path d="M220.5 78.5 L220.5 90.5" stroke="#808080" stroke-width="1" />
<path d="M244.5 78.5 L244.5 90.5" stroke="#808080" stroke-width="1" />
<circle cx="226" cy="84" r="3.9" stroke="#ffff00" stroke-width="0.6" fill="#ffff00" shape-rendering="geometricPrecision"/>
<circle cx="226" cy="84" r="2" stroke="#808080" stroke-width="0.9" fill="none" shape-rendering="geometricPrecision"/>
<rect x="225.5" y="83" width="1" height="2" fill="#ffff00" stroke="none"/>
<circle cx="239" cy="84" r="3.9" stroke="#ffff00" stroke-width="0.6" fill="#ffff00" shape-rendering="geometricPrecision"/>
<circle cx="239" cy="84" r="2" stroke="#808080" stroke-width="0.9" fill="none" shape-rendering="geometricPrecision"/>
<rect x="238.5" y="83" width="1" height="2" fill="#ffff00" stroke="none"/>
<path d="M222.5 89.5 L243.5 89.5" stroke="#00ffff" stroke-width="1" />
<rect x="223" y="90" width="19" height="1" fill="#ffff00" stroke="none"/>
<rect x="260.5" y="77.5" width="20" height="18" stroke="#00ff00" stroke-width="1" fill="none"/>
<rect x="262.5" y="80.5" width="16" height="12" rx="3" stroke="#00ff00" fill="none" shape-rendering="geometricPrecision"/>
<path d="M270.5 78.5 L270.5 84.5" stroke="#00ff00" stroke-width="1" />
<rect x="269.5" y="86.5" width="2" height="2" stroke="#00ff00" stroke-width="1" fill="none"/>
<rect x="262" y="93" width="2" height="2" fill="#00ff00" stroke="none"/>
<rect x="278" y="93" width="2" height="2" fill="#00ff00" stroke="none"/>
<rect x="241.5" y="367.5" width="20" height="19" stroke="#00ff00" stroke-width="1" fill="none"/>
<rect x="243.5" y="369.5" width="16" height="13" rx="3" stroke="#00ff00" fill="none" shape-rendering="geometricPrecision"/>
<rect x="243" y="384" width="17" height="2" fill="#00ff00" stroke="none"/>
<path d="M251.5 376.5 L251.5 383.5" stroke="#00ff00" stroke-width="1" />
<circle cx="251.5" cy="375.5" r="1" stroke="#00ff00" stroke-width="1" fill="none" shape-rendering="geometricPrecision"/>
<path d="M248.5 384.5 L251.5 380.5 L254.5 384.5" stroke="#00ff00" stroke-width="1" />
<rect x="249" y="382" width="5" height="2" fill="#00ff00" stroke="none"/>
<rect x="551.5" y="367.5" width="20" height="19" stroke="#00ff00" stroke-width="1" fill="none"/>
<rect x="553.5" y="369.5" width="16" height="13" rx="3" stroke="#00ff00" fill="none" shape-rendering="geometricPrecision"/>
<rect x="553" y="384" width="17" height="2" fill="#00ff00" stroke="none"/>
<path d="M561.5 376.5 L561.5 383.5" stroke="#00ff00" stroke-width="1" />
<circle cx="561.5" cy="375.5" r="1" stroke="#00ff00" stroke-width="1" fill="none" shape-rendering="geometricPrecision"/>
<path d="M558.5 384.5 L561.5 380.5 L564.5 384.5" stroke="#00ff00" stroke-width="1" />
<rect x="559" y="382" width="5" height="2" fill="#00ff00" stroke="none"/>
<rect x="241" y="437" width="9" height="21" fill="#00ffff" stroke="none"/>
<rect x="243" y="439" width="5" height="17" fill="#000" stroke="none"/>
<path d="M250.5 443.5 L253.5 442.5 L257.5 441.5 L262.5 439.5 L265.5 439.5 L272.5 447.5 L265.5 455.5 L262.5 454.5 L257.5 453.5 L253.5 452.5 L250.5 451.5" stroke="#00ffff" stroke-width="1" />
<path d="M262.5 440.5 L265.5 440.5 L271.5 447.5 L265.5 454.5 L262.5 454.5" stroke="#00ffff" stroke-width="1" />
<path d="M256.5 443.5 L254.5 443.5 L254.5 452.5 L256.5 452.5" stroke="#00ffff" stroke-width="1" />
<rect x="603" y="462" width="22" height="9" fill="#00ffff" stroke="none"/>
<rect x="605" y="465" width="18" height="4" fill="#000" stroke="none"/>
<path d="M608.5 461.5 L605.5 449.5 L606.5 447.5 L611.5 439.5 L615.5 439.5 L620.5 447.5 L621.5 449.5 L618.5 461.5" stroke="#00ffff" stroke-width="1" />
<path d="M609.5 461.5 L606.5 449.5 L611.5 440.5 L615.5 440.5 L620.5 449.5 L617.5 461.5" stroke="#00ffff" stroke-width="1" />
<path d="M607.5 451 Q608.5 458.5 613.5 458.5 Q618.5 458.5 619.5 451" stroke="#00ffff" stroke-width="1" fill="none" shape-rendering="geometricPrecision"/>
<rect x="551.5" y="414.5" width="25" height="57" stroke="#0000ff" stroke-width="1" fill="none"/>
<rect x="551" y="414" width="3" height="58" fill="#0000ff" stroke="none"/>
<rect x="551" y="414" width="26" height="2" fill="#0000ff" stroke="none"/>
<path d="M555.5 418.5 L574.5 418.5 L574.5 457.5 L570.5 464.5 L559.5 464.5 L555.5 457.5 L555.5 418.5" stroke="#0000ff" stroke-width="1" />
<path d="M555.5 460.5 L559.5 467.5 L570.5 467.5 L574.5 460.5" stroke="#0000ff" stroke-width="1" />
<path d="M556.5 424.5 L556.5 444.5" stroke="#0000ff" stroke-width="1" />
<path d="M573.5 424.5 L573.5 444.5" stroke="#0000ff" stroke-width="1" />
<path d="M562.5 421.5 L566.5 421.5" stroke="#0000ff" stroke-width="1" />
<path d="M564.5 419.5 L564.5 423.5" stroke="#0000ff" stroke-width="1" />
<path d="M311.5 105.5 L329.5 105.5" stroke="#00ff00" stroke-width="1" />
<path d="M311.5 123.5 L329.5 123.5" stroke="#00ff00" stroke-width="1" />
<path d="M311.5 105.5 L313.5 109.5 L311.5 114.5 L313.5 119.5 L311.5 123.5" stroke="#00ff00" stroke-width="1" />
<path d="M313.5 105.5 L315.5 109.5 L313.5 114.5 L315.5 119.5 L313.5 123.5" stroke="#00ff00" stroke-width="1" />
<path d="M311.5 123.5 L329.5 123.5" stroke="#00ff00" stroke-width="1" />
<path d="M311.5 142.5 L329.5 142.5" stroke="#00ff00" stroke-width="1" />
<path d="M311.5 123.5 L313.5 127.5 L311.5 132.5 L313.5 138.5 L311.5 142.5" stroke="#00ff00" stroke-width="1" />
<path d="M313.5 123.5 L315.5 127.5 L313.5 132.5 L315.5 138.5 L313.5 142.5" stroke="#00ff00" stroke-width="1" />
<path d="M311.5 142.5 L329.5 142.5" stroke="#00ff00" stroke-width="1" />
<path d="M311.5 160.5 L329.5 160.5" stroke="#00ff00" stroke-width="1" />
<path d="M311.5 142.5 L313.5 146.5 L311.5 151.5 L313.5 156.5 L311.5 160.5" stroke="#00ff00" stroke-width="1" />
<path d="M313.5 142.5 L315.5 146.5 L313.5 151.5 L315.5 156.5 L313.5 160.5" stroke="#00ff00" stroke-width="1" />
<path d="M311.5 160.5 L329.5 160.5" stroke="#00ff00" stroke-width="1" />
<path d="M311.5 178.5 L329.5 178.5" stroke="#00ff00" stroke-width="1" />
<path d="M311.5 160.5 L313.5 164.5 L311.5 169.5 L313.5 174.5 L311.5 178.5" stroke="#00ff00" stroke-width="1" />
<path d="M313.5 160.5 L315.5 164.5 L313.5 169.5 L315.5 174.5 L313.5 178.5" stroke="#00ff00" stroke-width="1" />
<rect x="326" y="139" width="1" height="1" fill="#00ff00" stroke="none"/>
<rect x="329" y="174" width="1" height="1" fill="#00ff00" stroke="none"/>
<rect x="324" y="138" width="1" height="1" fill="#00ff00" stroke="none"/>
<rect x="326" y="138" width="1" height="1" fill="#00ff00" stroke="none"/>
<rect x="320" y="159" width="1" height="1" fill="#00ff00" stroke="none"/>
<rect x="329" y="156" width="1" height="1" fill="#00ff00" stroke="none"/>
<rect x="329" y="116" width="1" height="1" fill="#00ff00" stroke="none"/>
<rect x="326" y="163" width="1" height="1" fill="#00ff00" stroke="none"/>
<rect x="325" y="133" width="1" height="1" fill="#00ff00" stroke="none"/>
<rect x="323" y="145" width="1" height="1" fill="#00ff00" stroke="none"/>
<rect x="321" y="115" width="1" height="1" fill="#00ff00" stroke="none"/>
<rect x="326" y="107" width="1" height="1" fill="#00ff00" stroke="none"/>
<rect x="328" y="150" width="1" height="1" fill="#00ff00" stroke="none"/>
<rect x="322" y="146" width="1" height="1" fill="#00ff00" stroke="none"/>
<rect x="322" y="130" width="1" height="1" fill="#00ff00" stroke="none"/>
<rect x="328" y="129" width="1" height="1" fill="#00ff00" stroke="none"/>
<rect x="317" y="164" width="1" height="1" fill="#00ff00" stroke="none"/>
<rect x="319" y="132" width="1" height="1" fill="#00ff00" stroke="none"/>
<rect x="320" y="166" width="1" height="1" fill="#00ff00" stroke="none"/>
<rect x="322" y="174" width="1" height="1" fill="#00ff00" stroke="none"/>
<rect x="324" y="120" width="1" height="1" fill="#00ff00" stroke="none"/>
<rect x="329" y="154" width="1" height="1" fill="#00ff00" stroke="none"/>
<rect x="325" y="118" width="1" height="1" fill="#00ff00" stroke="none"/>
<rect x="322" y="146" width="1" height="1" fill="#00ff00" stroke="none"/>
<rect x="321" y="168" width="1" height="1" fill="#00ff00" stroke="none"/>
<rect x="325" y="158" width="1" height="1" fill="#00ff00" stroke="none"/>
<rect x="328" y="151" width="1" height="1" fill="#00ff00" stroke="none"/>
<rect x="324" y="160" width="1" height="1" fill="#00ff00" stroke="none"/>
<rect x="327" y="111" width="1" height="1" fill="#00ff00" stroke="none"/>
<rect x="322" y="133" width="1" height="1" fill="#00ff00" stroke="none"/>
<rect x="328" y="123" width="1" height="1" fill="#00ff00" stroke="none"/>
<rect x="329" y="159" width="1" height="1" fill="#00ff00" stroke="none"/>
<rect x="323" y="154" width="1" height="1" fill="#00ff00" stroke="none"/>
<rect x="323" y="144" width="1" height="1" fill="#00ff00" stroke="none"/>
<rect x="322" y="168" width="1" height="1" fill="#00ff00" stroke="none"/>
<rect x="325" y="129" width="1" height="1" fill="#00ff00" stroke="none"/>
<rect x="324" y="150" width="1" height="1" fill="#00ff00" stroke="none"/>
<rect x="324" y="141" width="1" height="1" fill="#00ff00" stroke="none"/>
<rect x="325" y="171" width="1" height="1" fill="#00ff00" stroke="none"/>
<rect x="329" y="152" width="1" height="1" fill="#00ff00" stroke="none"/>
<rect x="327" y="111" width="1" height="1" fill="#00ff00" stroke="none"/>
<rect x="327" y="152" width="1" height="1" fill="#00ff00" stroke="none"/>
<rect x="327" y="151" width="1" height="1" fill="#00ff00" stroke="none"/>
<rect x="322" y="173" width="1" height="1" fill="#00ff00" stroke="none"/>
<rect x="328" y="160" width="1" height="1" fill="#00ff00" stroke="none"/>
<rect x="329" y="173" width="1" height="1" fill="#00ff00" stroke="none"/>
<rect x="329" y="141" width="1" height="1" fill="#00ff00" stroke="none"/>
<rect x="317" y="132" width="1" height="1" fill="#00ff00" stroke="none"/>
<rect x="324" y="130" width="1" height="1" fill="#00ff00" stroke="none"/>
<rect x="327" y="130" width="1" height="1" fill="#00ff00" stroke="none"/>
<rect x="324" y="131" width="1" height="1" fill="#00ff00" stroke="none"/>
<rect x="323" y="166" width="1" height="1" fill="#00ff00" stroke="none"/>
<rect x="327" y="116" width="1" height="1" fill="#00ff00" stroke="none"/>
<rect x="320" y="154" width="1" height="1" fill="#00ff00" stroke="none"/>
<rect x="326" y="175" width="1" height="1" fill="#00ff00" stroke="none"/>
<rect x="327" y="107" width="1" height="1" fill="#00ff00" stroke="none"/>
<rect x="322" y="176" width="1" height="1" fill="#00ff00" stroke="none"/>
<rect x="327" y="155" width="1" height="1" fill="#00ff00" stroke="none"/>
<rect x="320" y="170" width="1" height="1" fill="#00ff00" stroke="none"/>
<rect x="328" y="155" width="1" height="1" fill="#00ff00" stroke="none"/>
<rect x="321" y="170" width="1" height="1" fill="#00ff00" stroke="none"/>
<rect x="319" y="168" width="1" height="1" fill="#00ff00" stroke="none"/>
<rect x="327" y="163" width="1" height="1" fill="#00ff00" stroke="none"/>
<rect x="329" y="111" width="1" height="1" fill="#00ff00" stroke="none"/>
<rect x="324" y="173" width="1" height="1" fill="#00ff00" stroke="none"/>
<rect x="326" y="122" width="1" height="1" fill="#00ff00" stroke="none"/>
<rect x="319" y="145" width="1" height="1" fill="#00ff00" stroke="none"/>
<rect x="328" y="150" width="1" height="1" fill="#00ff00" stroke="none"/>
<rect x="328" y="174" width="1" height="1" fill="#00ff00" stroke="none"/>
<rect x="326" y="123" width="1" height="1" fill="#00ff00" stroke="none"/>
<rect x="321" y="177" width="1" height="1" fill="#00ff00" stroke="none"/>
<rect x="318" y="176" width="1" height="1" fill="#00ff00" stroke="none"/>
<rect x="323" y="161" width="1" height="1" fill="#00ff00" stroke="none"/>
<rect x="328" y="168" width="1" height="1" fill="#00ff00" stroke="none"/>
<rect x="323" y="167" width="1" height="1" fill="#00ff00" stroke="none"/>
<rect x="328" y="132" width="1" height="1" fill="#00ff00" stroke="none"/>
<rect x="324" y="115" width="1" height="1" fill="#00ff00" stroke="none"/>
<rect x="325" y="126" width="1" height="1" fill="#00ff00" stroke="none"/>
<rect x="325" y="113" width="1" height="1" fill="#00ff00" stroke="none"/>
<rect x="329" y="115" width="1" height="1" fill="#00ff00" stroke="none"/>
<rect x="324" y="126" width="1" height="1" fill="#00ff00" stroke="none"/>
<rect x="318" y="134" width="1" height="1" fill="#00ff00" stroke="none"/>
<rect x="322" y="169" width="1" height="1" fill="#00ff00" stroke="none"/>
<rect x="319" y="144" width="1" height="1" fill="#00ff00" stroke="none"/>
<rect x="327" y="171" width="1" height="1" fill="#00ff00" stroke="none"/>
<rect x="325" y="177" width="1" height="1" fill="#00ff00" stroke="none"/>
<rect x="324" y="156" width="1" height="1" fill="#00ff00" stroke="none"/>
<rect x="328" y="109" width="1" height="1" fill="#00ff00" stroke="none"/>
<rect x="318" y="111" width="1" height="1" fill="#00ff00" stroke="none"/>
<rect x="324" y="148" width="1" height="1" fill="#00ff00" stroke="none"/>
<rect x="325" y="110" width="1" height="1" fill="#00ff00" stroke="none"/>
<rect x="320" y="144" width="1" height="1" fill="#00ff00" stroke="none"/>
<rect x="326" y="151" width="1" height="1" fill="#00ff00" stroke="none"/>
<rect x="323" y="153" width="1" height="1" fill="#00ff00" stroke="none"/>
<rect x="326" y="134" width="1" height="1" fill="#00ff00" stroke="none"/>
<rect x="323" y="115" width="1" height="1" fill="#00ff00" stroke="none"/>
<rect x="324" y="151" width="1" height="1" fill="#00ff00" stroke="none"/>
<rect x="326" y="161" width="1" height="1" fill="#00ff00" stroke="none"/>
<rect x="324" y="119" width="1" height="1" fill="#00ff00" stroke="none"/>
<rect x="327" y="127" width="1" height="1" fill="#00ff00" stroke="none"/>
<rect x="323" y="167" width="1" height="1" fill="#00ff00" stroke="none"/>
<rect x="321" y="121" width="1" height="1" fill="#00ff00" stroke="none"/>
<rect x="322" y="154" width="1" height="1" fill="#00ff00" stroke="none"/>
<rect x="324" y="126" width="1" height="1" fill="#00ff00" stroke="none"/>
<rect x="327" y="148" width="1" height="1" fill="#00ff00" stroke="none"/>
<rect x="327" y="137" width="1" height="1" fill="#00ff00" stroke="none"/>
<rect x="319" y="111" width="1" height="1" fill="#00ff00" stroke="none"/>
<rect x="328" y="153" width="1" height="1" fill="#00ff00" stroke="none"/>
<rect x="318" y="166" width="1" height="1" fill="#00ff00" stroke="none"/>
<rect x="321" y="107" width="1" height="1" fill="#00ff00" stroke="none"/>
<rect x="324" y="159" width="1" height="1" fill="#00ff00" stroke="none"/>
<rect x="328" y="116" width="1" height="1" fill="#00ff00" stroke="none"/>
<rect x="329" y="169" width="1" height="1" fill="#00ff00" stroke="none"/>
<rect x="327" y="113" width="1" height="1" fill="#00ff00" stroke="none"/>
<rect x="329" y="114" width="1" height="1" fill="#00ff00" stroke="none"/>
<rect x="323" y="164" width="1" height="1" fill="#00ff00" stroke="none"/>
<rect x="327" y="158" width="1" height="1" fill="#00ff00" stroke="none"/>
<rect x="329" y="120" width="1" height="1" fill="#00ff00" stroke="none"/>
<rect x="322" y="169" width="1" height="1" fill="#00ff00" stroke="none"/>
<rect x="329" y="155" width="1" height="1" fill="#00ff00" stroke="none"/>
<rect x="320" y="177" width="1" height="1" fill="#00ff00" stroke="none"/>
<rect x="321" y="168" width="1" height="1" fill="#00ff00" stroke="none"/>
<rect x="329" y="140" width="1" height="1" fill="#00ff00" stroke="none"/>
<rect x="322" y="123" width="1" height="1" fill="#00ff00" stroke="none"/>
<rect x="318" y="167" width="1" height="1" fill="#00ff00" stroke="none"/>
<rect x="327" y="138" width="1" height="1" fill="#00ff00" stroke="none"/>
<rect x="324" y="138" width="1" height="1" fill="#00ff00" stroke="none"/>
<path d="M329.5 99.5 L313 99.5 Q307.5 100 307.5 106 L307.5 177 Q307.5 183 313 183.5 L329.5 183.5" stroke="#ff0000" stroke-width="1" fill="none" shape-rendering="geometricPrecision"/>
<path d="M329.5 99.5 L329.5 104 L329.5 107 L331 111 L331 117 L329.5 121 L329.5 125 L331 129 L331 136 L329.5 140 L329.5 144 L331 148 L331 154 L329.5 158 L329.5 162 L331 166 L331 172 L329.5 176 L329.5 183.5" stroke="#ff0000" stroke-width="1" fill="none" shape-rendering="geometricPrecision"/>
<path d="M53.5 232.5 L43.5 232.5 A11 11 0 0 0 43.5 254.5 L53.5 254.5" stroke="#00ffff" stroke-width="1" fill="none" shape-rendering="geometricPrecision"/>
<path d="M53.5 234.5 L43.5 234.5 A9 9 0 0 0 43.5 252.5 L53.5 252.5" stroke="#00ffff" stroke-width="1" fill="none" shape-rendering="geometricPrecision"/>
<path d="M55.5 217.5 L78 217.5 Q80 217.5 80.5 220 Q87.5 243 80.5 266 Q80 268.5 78 268.5 L55.5 268.5 Q53.5 268.5 53.5 266.5 L53.5 219.5 Q53.5 217.5 55.5 217.5 Z" stroke="#00ffff" stroke-width="1" fill="none" shape-rendering="geometricPrecision"/>
<path d="M57 219.5 L77 219.5 Q78.5 219.5 78.8 221 Q85.2 243 78.8 265 Q78.5 266.5 77 266.5 L57 266.5 Q55.5 266.5 55.5 265 L55.5 221 Q55.5 219.5 57 219.5 Z" stroke="#808080" stroke-width="1" fill="none" shape-rendering="geometricPrecision"/>
<path d="M38.5 243.5 L41 239.5 L49 239.5 L51.5 243.5 L49 248 L41 248 Z" stroke="#ffff00" stroke-width="1" fill="#808080" shape-rendering="geometricPrecision"/>
<rect x="43" y="242" width="5" height="1" fill="#222" stroke="none"/>
<rect x="45" y="243" width="1" height="4" fill="#222" stroke="none"/>
<rect x="63.5" y="220.5" width="4" height="11" stroke="#ffff00" stroke-width="1" fill="none"/>
<rect x="69.5" y="220.5" width="3" height="11" stroke="#ffff00" stroke-width="1" fill="none"/>
<rect x="72" y="220" width="3" height="12" fill="#ffff00" stroke="none"/>
<rect x="73" y="226" width="3" height="7" fill="#ffff00" stroke="none"/>
<rect x="59.5" y="232.5" width="6" height="13" stroke="#ffff00" stroke-width="1" fill="none"/>
<rect x="59" y="232" width="3" height="14" fill="#ffff00" stroke="none"/>
<rect x="60" y="240" width="5" height="6" fill="#ffff00" stroke="none"/>
<rect x="61" y="241" width="1" height="1" fill="#000" stroke="none"/>
<rect x="63" y="243" width="1" height="1" fill="#000" stroke="none"/>
<path d="M66.5 235.5 L69.5 233.5 L72.5 232.5" stroke="#ffff00" stroke-width="2" />
<path d="M124.5 213.5 L136.5 213.5 L136.5 216.5 L138.5 216.5 L138.5 229.5 L122.5 229.5 L122.5 216.5 L124.5 216.5 L124.5 213.5" stroke="#ff0000" stroke-width="1" />
<path d="M125.5 214.5 L135.5 214.5" stroke="#ff00ff" stroke-width="1" />
<path d="M125.5 215.5 L135.5 215.5" stroke="#ff00ff" stroke-width="1" />
<path d="M123.5 217.5 L123.5 226.5" stroke="#ff00ff" stroke-width="1" />
<path d="M137.5 217.5 L137.5 226.5" stroke="#ff00ff" stroke-width="1" />
<path d="M124.5 216.5 L136.5 216.5" stroke="#ff0000" stroke-width="1" />
<rect x="123" y="227" width="2" height="2" fill="#00ff00" stroke="none"/>
<rect x="136" y="227" width="2" height="2" fill="#00ff00" stroke="none"/>
<path d="M146.5 213.5 L158.5 213.5 L158.5 216.5 L160.5 216.5 L160.5 229.5 L144.5 229.5 L144.5 216.5 L146.5 216.5 L146.5 213.5" stroke="#ff0000" stroke-width="1" />
<path d="M147.5 214.5 L157.5 214.5" stroke="#ff00ff" stroke-width="1" />
<path d="M147.5 215.5 L157.5 215.5" stroke="#ff00ff" stroke-width="1" />
<path d="M145.5 217.5 L145.5 226.5" stroke="#ff00ff" stroke-width="1" />
<path d="M159.5 217.5 L159.5 226.5" stroke="#ff00ff" stroke-width="1" />
<path d="M146.5 216.5 L158.5 216.5" stroke="#ff0000" stroke-width="1" />
<rect x="145" y="227" width="2" height="2" fill="#00ff00" stroke="none"/>
<rect x="158" y="227" width="2" height="2" fill="#00ff00" stroke="none"/>
<path d="M124.5 274.5 L136.5 274.5 L136.5 271.5 L138.5 271.5 L138.5 258.5 L122.5 258.5 L122.5 271.5 L124.5 271.5 L124.5 274.5" stroke="#ff0000" stroke-width="1" />
<path d="M125.5 273.5 L135.5 273.5" stroke="#ff00ff" stroke-width="1" />
<path d="M125.5 272.5 L135.5 272.5" stroke="#ff00ff" stroke-width="1" />
<path d="M123.5 270.5 L123.5 261.5" stroke="#ff00ff" stroke-width="1" />
<path d="M137.5 270.5 L137.5 261.5" stroke="#ff00ff" stroke-width="1" />
<path d="M124.5 271.5 L136.5 271.5" stroke="#ff0000" stroke-width="1" />
<rect x="123" y="259" width="2" height="2" fill="#00ff00" stroke="none"/>
<rect x="136" y="259" width="2" height="2" fill="#00ff00" stroke="none"/>
<path d="M146.5 274.5 L158.5 274.5 L158.5 271.5 L160.5 271.5 L160.5 258.5 L144.5 258.5 L144.5 271.5 L146.5 271.5 L146.5 274.5" stroke="#ff0000" stroke-width="1" />
<path d="M147.5 273.5 L157.5 273.5" stroke="#ff00ff" stroke-width="1" />
<path d="M147.5 272.5 L157.5 272.5" stroke="#ff00ff" stroke-width="1" />
<path d="M145.5 270.5 L145.5 261.5" stroke="#ff00ff" stroke-width="1" />
<path d="M159.5 270.5 L159.5 261.5" stroke="#ff00ff" stroke-width="1" />
<path d="M146.5 271.5 L158.5 271.5" stroke="#ff0000" stroke-width="1" />
<rect x="145" y="259" width="2" height="2" fill="#00ff00" stroke="none"/>
<rect x="158" y="259" width="2" height="2" fill="#00ff00" stroke="none"/>
<path d="M122.5 231.5 L159.5 231.5 L162.5 234.5 L162.5 253.5 L159.5 256.5 L122.5 256.5 L119.5 253.5 L119.5 234.5 Z" stroke="#ff0000" stroke-width="1" />
<path d="M123.5 232.5 L121.5 234.5 L120.5 235.5 L120.5 252.5 L122.5 255.5 L158.5 255.5" stroke="#d0d0d0" stroke-width="1" />
<text x="68.5" y="69.5" font-size="18.5" fill="#0000ff" textLength="24" lengthAdjust="spacingAndGlyphs">图七</text>
<text x="206.5" y="49.8" font-size="18.7" fill="#00ff00" textLength="62" lengthAdjust="spacingAndGlyphs">坎96四泄生</text>
<text x="399.5" y="20.8" font-size="18.7" fill="#00ff00" textLength="74" lengthAdjust="spacingAndGlyphs">丑向28二绝煞</text>
<text x="45.5" y="139.8" font-size="18.7" fill="#00ff00" textLength="62" lengthAdjust="spacingAndGlyphs">乾41九祸死</text>
<text x="70.5" y="442.8" font-size="18.7" fill="#00ff00" textLength="62" lengthAdjust="spacingAndGlyphs">兑39一六煞</text>
<text x="281.5" y="513.8" font-size="19.6" fill="#00ff00" textLength="74" lengthAdjust="spacingAndGlyphs">未山85五五生</text>
<text x="514.5" y="513.8" font-size="18.7" fill="#00ff00" textLength="62" lengthAdjust="spacingAndGlyphs">离17三天死</text>
<text x="637.5" y="74.8" font-size="18.7" fill="#00ff00" textLength="11.7" lengthAdjust="spacingAndGlyphs">震</text>
<text x="637.5" y="100" font-size="18.7" fill="#00ff00" textLength="11" lengthAdjust="spacingAndGlyphs">74</text>
<text x="637.5" y="125.8" font-size="18.7" fill="#00ff00" textLength="11.7" lengthAdjust="spacingAndGlyphs">六</text>
<text x="637.5" y="151.8" font-size="18.7" fill="#00ff00" textLength="11.7" lengthAdjust="spacingAndGlyphs">延</text>
<text x="637.5" y="176.8" font-size="18.7" fill="#00ff00" textLength="11.7" lengthAdjust="spacingAndGlyphs">死</text>
<text x="660.5" y="308.8" font-size="18.7" fill="#00ff00" textLength="11.7" lengthAdjust="spacingAndGlyphs">巽</text>
<text x="661.5" y="334" font-size="18.7" fill="#00ff00" textLength="11" lengthAdjust="spacingAndGlyphs">63</text>
<text x="660.5" y="359.8" font-size="18.7" fill="#00ff00" textLength="11.7" lengthAdjust="spacingAndGlyphs">七</text>
<text x="660.5" y="384.8" font-size="18.7" fill="#00ff00" textLength="11.7" lengthAdjust="spacingAndGlyphs">伏</text>
<text x="660.5" y="409.8" font-size="18.7" fill="#00ff00" textLength="11.7" lengthAdjust="spacingAndGlyphs">旺</text>
<text x="57.7" y="200.9" font-size="14.1" fill="#00ff00" textLength="18" lengthAdjust="spacingAndGlyphs">书房</text>
<text x="252.7" y="138.9" font-size="14.1" fill="#00ff00" textLength="18" lengthAdjust="spacingAndGlyphs">厨房</text>
<text x="171.7" y="228.9" font-size="14.1" fill="#00ff00" textLength="18" lengthAdjust="spacingAndGlyphs">餐厅</text>
<text x="331.7" y="63.9" font-size="14.1" fill="#00ff00" textLength="18" lengthAdjust="spacingAndGlyphs">阳台</text>
<text x="387.7" y="175.9" font-size="14.1" fill="#00ff00" textLength="18" lengthAdjust="spacingAndGlyphs">客厅</text>
<text x="525.7" y="180.9" font-size="14.1" fill="#00ff00" textLength="27.3" lengthAdjust="spacingAndGlyphs">儿子房</text>
<text x="563.7" y="254.9" font-size="14.1" fill="#00ff00" textLength="18" lengthAdjust="spacingAndGlyphs">客房</text>
<text x="323.7" y="367.9" font-size="14.1" fill="#00ff00" textLength="18" lengthAdjust="spacingAndGlyphs">客房</text>
<text x="254.7" y="357.9" font-size="14.1" fill="#00ff00" textLength="27.3" lengthAdjust="spacingAndGlyphs">洗手间</text>
<text x="268.7" y="430.9" font-size="14.1" fill="#00ff00" textLength="18" lengthAdjust="spacingAndGlyphs">厕所</text>
<text x="489.7" y="392.9" font-size="14.1" fill="#00ff00" textLength="27.3" lengthAdjust="spacingAndGlyphs">主人房</text>
<text x="576.7" y="362.9" font-size="14.1" fill="#00ff00" textLength="27.3" lengthAdjust="spacingAndGlyphs">洗手间</text>
<text x="590.7" y="430.9" font-size="14.1" fill="#00ff00" textLength="27.3" lengthAdjust="spacingAndGlyphs">卫生间</text>
<text x="461.5" y="384.5" font-size="12.5" fill="#00ff00" textLength="7.2" lengthAdjust="spacingAndGlyphs">96</text>
<text x="479.5" y="383.5" font-size="12.5" fill="#00ff00" textLength="7.2" lengthAdjust="spacingAndGlyphs">28</text>
<text x="448.5" y="397.5" font-size="12.5" fill="#00ff00" textLength="7.2" lengthAdjust="spacingAndGlyphs">41</text>
<text x="447.5" y="416.5" font-size="12.5" fill="#00ff00" textLength="7.2" lengthAdjust="spacingAndGlyphs">39</text>
<text x="464.5" y="427.5" font-size="12.5" fill="#00ff00" textLength="7.2" lengthAdjust="spacingAndGlyphs">85</text>
<text x="481.5" y="426.5" font-size="12.5" fill="#00ff00" textLength="7.2" lengthAdjust="spacingAndGlyphs">17</text>
<text x="494.5" y="410.5" font-size="12.5" fill="#00ff00" textLength="7.2" lengthAdjust="spacingAndGlyphs">63</text>
</svg>
</body></html>
